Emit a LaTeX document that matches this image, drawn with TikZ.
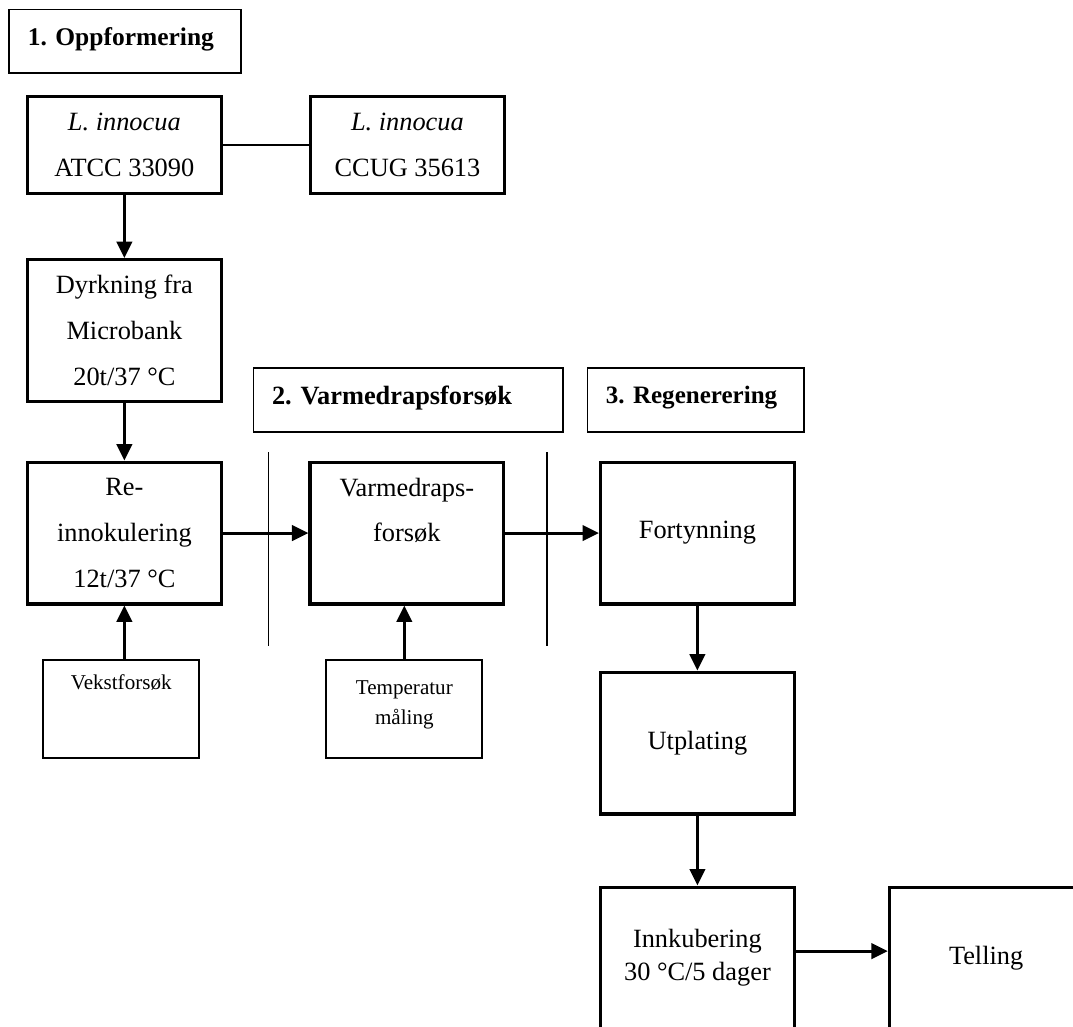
\documentclass[tikz,border=0pt]{standalone}
\usepackage{fontspec}
\setmainfont{Liberation Serif}
\usetikzlibrary{arrows.meta}
\frenchspacing

\tikzset{
  bigbox/.style={draw, line width=1.4pt, minimum width=3.1cm, minimum height=2.27cm, align=center, font=\fontsize{12}{20.9}\selectfont},
  strainbox/.style={bigbox, minimum height=1.55cm},
  smallbox/.style={draw, line width=0.9pt, minimum width=2.5cm, minimum height=1.57cm, align=center, font=\fontsize{9.6}{13.6}\selectfont},
  headbox/.style={draw, line width=0.7pt, minimum height=1.02cm, inner xsep=8.5pt, align=left, text depth=4.6pt, font=\bfseries\fontsize{11.6}{14}\selectfont},
  arr/.style={-{Triangle[length=7.5pt,width=7pt]}, line width=1.4pt},
  sepline/.style={line width=0.7pt}
}

\begin{document}
\begin{tikzpicture}
    \useasboundingbox (0,0) rectangle (17.17,16.42);
    \clip (0,0) rectangle (17.17,16.42);

    % 1. Oppformering
    \node[headbox, text width=88.5pt] (head1) at (2.00,15.76) {1. Oppformering};
    \node[strainbox] (atcc) at (1.99,14.10) {\textit{L. innocua}\\ATCC 33090};
    \node[strainbox] (ccug) at (6.52,14.10) {\textit{L. innocua}\\CCUG 35613};
    \node[bigbox] (dyrk) at (1.99,11.13) {Dyrkning fra\\Microbank\\20t/37 °C};
    \node[bigbox] (reinn) at (1.99,7.89) {Re-\\innokulering\\12t/37 °C};
    \node[smallbox, text depth=24.9pt] (vekst) at (1.94,5.07) {Vekstforsøk};

    \draw[sepline] (atcc) -- (ccug);
    \draw[arr] (atcc) -- (dyrk);
    \draw[arr] (dyrk) -- (reinn);
    \draw[arr] (reinn.south |- vekst.north) -- (reinn.south);

    % 2. Varmedrapsforsøk
    \node[headbox, text width=123.9pt, font=\bfseries\fontsize{12}{14}\selectfont] (head2) at (6.53,10.02) {2. Varmedrapsforsøk};
    \coordinate (sepa1) at (4.30,9.18);
    \coordinate (sepa2) at (4.30,6.08);
    \coordinate (sepb1) at (8.75,9.18);
    \coordinate (sepb2) at (8.75,6.08);
    \node[bigbox, text depth=21.1pt] (varme) at (6.51,7.89) {Varmedraps-\\forsøk};
    \node[smallbox, text depth=5.7pt] (temp) at (6.47,5.07) {Temperatur\\måling};

    \draw[sepline] (sepa1) -- (sepa2);
    \draw[sepline] (sepb1) -- (sepb2);
    \draw[arr] (reinn) -- (varme);
    \draw[arr] (temp.north) -- (temp.north |- varme.south);

    % 3. Regenerering
    \node[headbox, text width=81.6pt, font=\bfseries\fontsize{11.4}{14}\selectfont] (head3) at (11.13,10.02) {3. Regenerering};
    \node[bigbox] (fort) at (11.16,7.89) {Fortynning};
    \node[bigbox] (utpl) at (11.16,4.53) {Utplating};
    \node[bigbox, font=\fontsize{12}{15}\selectfont] (innk) at (11.16,1.09) {Innkubering\\30 °C/5 dager};
    \node[bigbox] (tell) at (15.78,1.09) {Telling};

    \draw[arr] (varme) -- (fort);
    \draw[arr] (fort) -- (utpl);
    \draw[arr] (utpl) -- (innk);
    \draw[arr] ([yshift=0.11cm]innk.east) -- ([yshift=0.11cm]tell.west);
\end{tikzpicture}
\end{document}
